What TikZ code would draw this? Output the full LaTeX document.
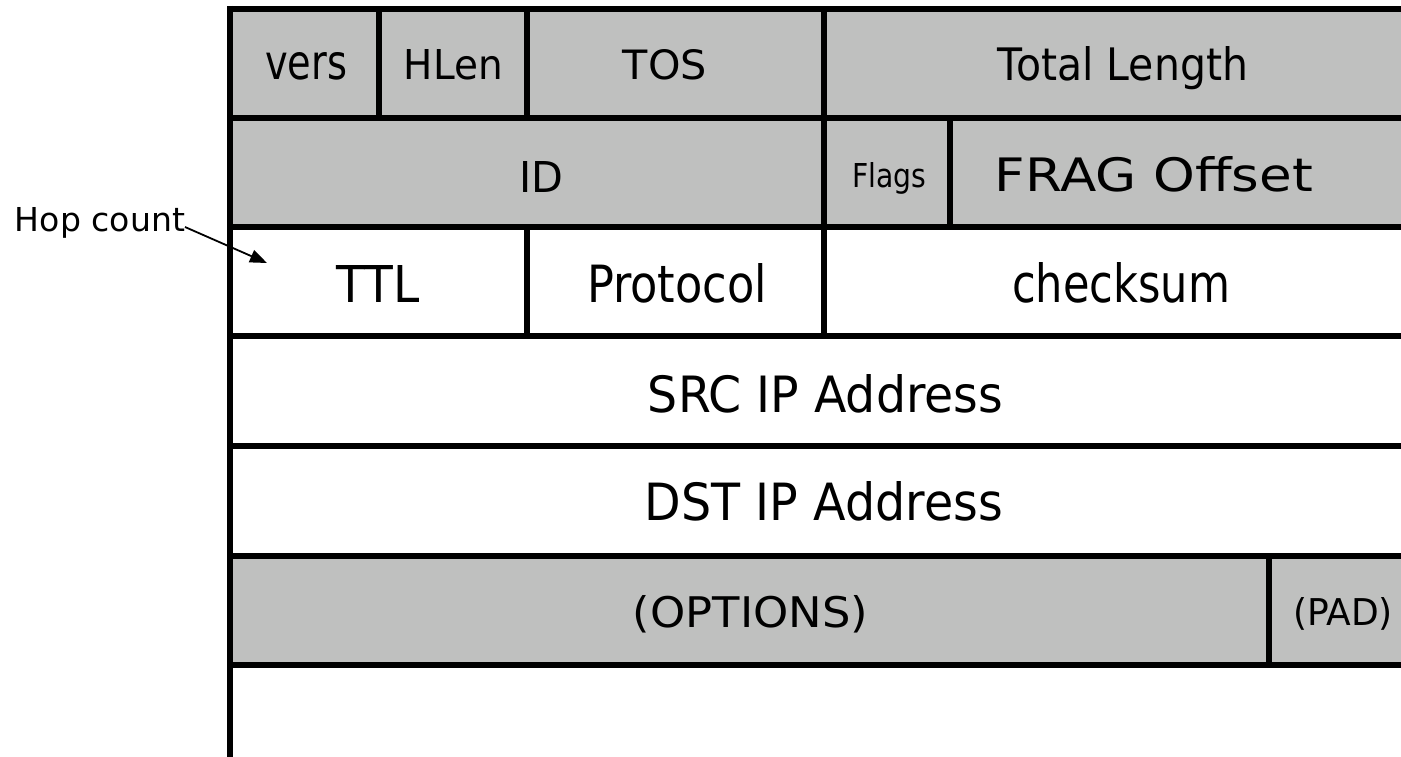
\documentclass[tikz,border=0pt]{standalone}
\usepackage{fontspec}
\usepackage{graphicx}
\setmainfont{DejaVu Sans}
\usetikzlibrary{arrows.meta}
\definecolor{cellgrey}{RGB}{191,192,191}
\newcommand\fitlabel[3]{\resizebox{#1pt}{#2pt}{#3}}
\begin{document}
\begin{tikzpicture}[x=1pt,y=-1pt,
  grid/.style={line width=6pt},
  lbl/.style={anchor=base, inner sep=0pt, outer sep=0pt},
  pointer/.style={line width=1.8pt, -{Triangle[length=17pt,width=13pt]}}]
\useasboundingbox (0,0) rectangle (1401,757);
% grey rows
\fill[cellgrey] (230,9) rectangle (1401,227);
\fill[cellgrey] (230,556) rectangle (1401,665);
% row lines
\foreach \y in {9,118,227,336,446,556,665} \draw[grid] (227,\y) -- (1401,\y);
\draw[grid] (230,6) -- (230,757);
% column dividers
\draw[grid] (379,9) -- (379,118);
\draw[grid] (527,9) -- (527,118);
\draw[grid] (824,9) -- (824,336);
\draw[grid] (950,118) -- (950,227);
\draw[grid] (527,227) -- (527,336);
\draw[grid] (1269,556) -- (1269,665);
% labels
\node[lbl] (vers) at (306,80) {\fitlabel{82}{27}{vers}};
\node[lbl] (hlen) at (453.5,80) {\fitlabel{99}{30}{HLen}};
\node[lbl] (tos) at (665,80) {\fitlabel{84}{30}{TOS}};
\node[lbl] (totlen) at (1123,81) {\fitlabel{250}{34}{Total Length}};
\node[lbl] (id) at (541,192) {\fitlabel{44}{31}{ID}};
\node[lbl] (flags) at (889,187) {\fitlabel{74}{25}{Flags}};
\node[lbl] (frag) at (1154,192) {\fitlabel{318}{35}{FRAG Offset}};
\node[lbl] (ttl) at (378.5,302) {\fitlabel{83}{37}{TTL}};
\node[lbl] (proto) at (677,302) {\fitlabel{180}{39}{Protocol}};
\node[lbl] (cksum) at (1121,302) {\fitlabel{218}{40}{checksum}};
\node[lbl] (src) at (825.5,412) {\fitlabel{355}{38}{SRC IP Address}};
\node[lbl] (dst) at (824,520) {\fitlabel{358}{39}{DST IP Address}};
\node[lbl] (opts) at (750.5,627) {\fitlabel{235}{32}{(OPTIONS)}};
\node[lbl] (pad) at (1343,625) {\fitlabel{100}{28}{(PAD)}};
\node[lbl] (hop) at (100,232) {\fitlabel{170}{24}{Hop count}};
% pointer
\coordinate (ttlpt) at (267,263);
\draw[pointer] ([yshift=5pt]hop.base east) -- (ttlpt);
\end{tikzpicture}
\end{document}
